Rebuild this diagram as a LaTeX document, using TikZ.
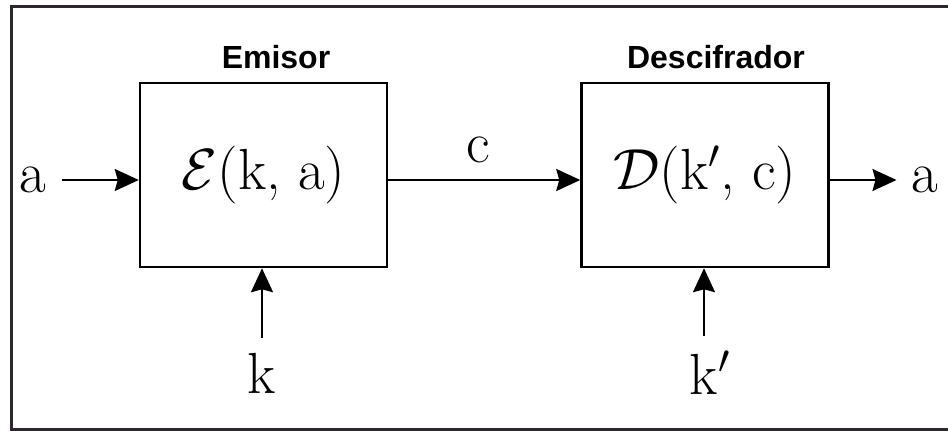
\RequirePackage{fix-cm}
\documentclass[tikz,border=0pt]{standalone}
\usepackage{fontspec}
\setsansfont{Liberation Sans}
\usetikzlibrary{arrows.meta, positioning}
\definecolor{marco}{RGB}{45, 40, 45}

\begin{document}
\begin{tikzpicture}[
    x=1pt, y=-1pt,
    bloque/.style={draw=black, line width=2.5pt, minimum width=247pt,
                   minimum height=184pt, inner sep=0pt,
                   font=\fontsize{58}{62}\selectfont},
    titulo/.style={font=\sffamily\bfseries\fontsize{32}{36}\selectfont},
    senal/.style={inner sep=15pt, font=\fontsize{58}{62}\selectfont},
    flecha/.style={line width=2.2pt, -{Stealth[length=24pt, width=22pt, inset=3pt]}}
]
    \useasboundingbox (0,0) rectangle (948,431);
    % marco exterior
    \draw[marco, line width=3pt] (948,6) -- (11,6) -- (11,429) -- (948,429);

    \node[bloque] (emisor) at (263.5,175) {$\mathcal{E}$(k, a)};
    \node[bloque] (descif) at (705,175) {$\mathcal{D}$(k$'$, c)};
    \node[titulo] (temisor) at (276,57) {Emisor};
    \node[titulo] (tdescif) at (716,57) {Descifrador};

    \node[senal] (aent) at (33,180) {a};
    \node[senal] (asal) at (925,180) {a};
    \node[senal] (csig) at (478,150) {c};
    \node[senal] (kent) at (262,373) {k};
    \node[senal] (kdes) at (704,373) {k\rlap{$'$}};

    \draw[flecha] (aent) -- (emisor.west |- aent);
    \draw[flecha] (emisor.east |- aent) -- (descif.west |- aent);
    \draw[flecha] (descif.east |- asal) -- (asal);
    \draw[flecha] (kent) -- (kent |- emisor.south);
    \draw[flecha] (kdes) -- (kdes |- descif.south);
\end{tikzpicture}
\end{document}
